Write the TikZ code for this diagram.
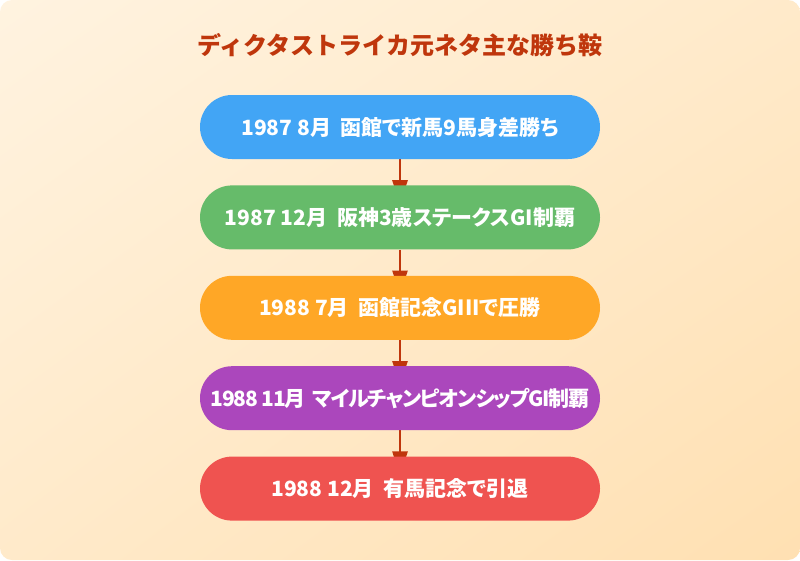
\documentclass[tikz,border=0pt]{standalone}
\usepackage{fontspec}
\setmainfont{Noto Sans CJK JP}
\newfontfamily\evfont{Noto Sans CJK JP}[RawFeature=+palt]
\usetikzlibrary{positioning,arrows.meta,shadings,backgrounds}
\definecolor{bgtop}{HTML}{FFF3E0}
\definecolor{bgmid}{HTML}{FFEACA}
\definecolor{bgbot}{HTML}{FFE0B2}
\definecolor{rust}{HTML}{BF360C}
\definecolor{evblue}{HTML}{42A5F5}
\definecolor{evgreen}{HTML}{66BB6A}
\definecolor{evorange}{HTML}{FFA726}
\definecolor{evpurple}{HTML}{AB47BC}
\definecolor{evred}{HTML}{EF5350}
\tikzset{
  event/.style={rounded corners=32pt, minimum width=400pt, minimum height=64pt,
    inner sep=0pt, text=white, font=\evfont\fontsize{21}{25}\selectfont\bfseries},
  link/.style={rust, line width=2.5pt, -{Triangle[width=15pt,length=24pt]}}
}
\begin{document}
\begin{tikzpicture}[x=1pt,y=-1pt]
    \useasboundingbox (0,0) rectangle (800,560);
    \begin{pgfonlayer}{background}
    \fill [white] (0,0) rectangle (800,560);
    \shade [upper left=bgtop, upper right=bgmid, lower left=bgmid, lower right=bgbot,
      rounded corners=12pt] (0,0) rectangle (800,560);
    \end{pgfonlayer}
    \node [text=rust, font=\fontsize{24}{28}\selectfont\bfseries] (title) at (400,45) {ディクタストライカ元ネタ主な勝ち鞍};
    \node [event, fill=evblue] (ev1) at (400,127) {1987 8月\ \ 函館で新馬9馬身差勝ち};
    \node [event, fill=evgreen, below=26pt of ev1] (ev2) {1987 12月\ \ 阪神3歳ステークスGI制覇};
    \node [event, fill=evorange, below=26pt of ev2] (ev3) {1988 7月\ \ 函館記念GIIIで圧勝};
    \node [event, fill=evpurple, below=26pt of ev3,
      font=\evfont\fontsize{21}{25}\selectfont\bfseries\addfontfeature{LetterSpace=-6}] (ev4) {1988 11月\ \ マイルチャンピオンシップGI制覇};
    \node [event, fill=evred, below=26pt of ev4] (ev5) {1988 12月\ \ 有馬記念で引退};
    % arrows run under the boxes
    \begin{pgfonlayer}{background}
    \foreach \a/\b in {ev1/ev2, ev2/ev3, ev3/ev4, ev4/ev5}
      \draw [link] (\a.south) -- ([yshift=-19pt]\b.north);
    \end{pgfonlayer}
\end{tikzpicture}
\end{document}
